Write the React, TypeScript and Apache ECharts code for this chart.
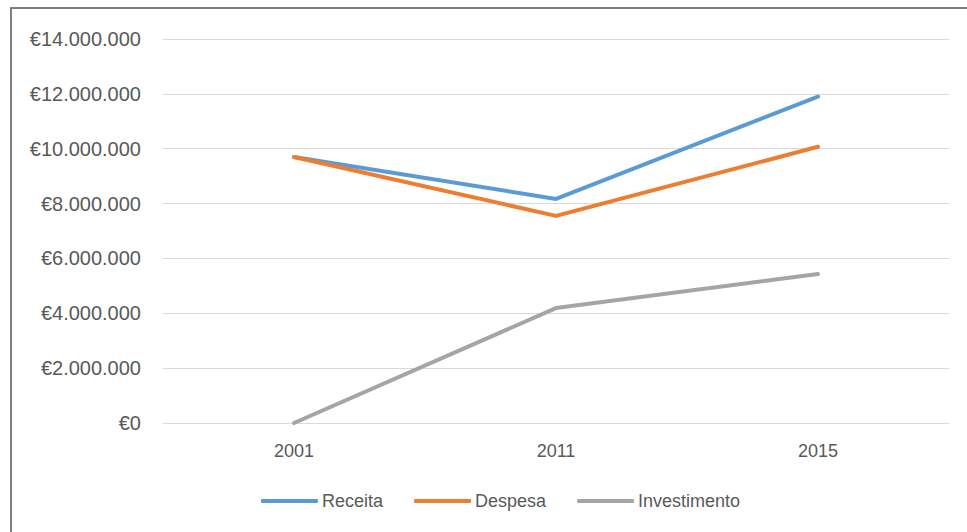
import React, { useEffect, useRef } from "react";
import * as echarts from "echarts";

const categories = ["2001", "2011", "2015"];
const receita = [9700000, 8170000, 11900000];
const despesa = [9700000, 7550000, 10070000];
const investimento = [0, 4190000, 5430000];

const fmt = (v: number) =>
  "€" + Math.round(v).toString().replace(/\B(?=(\d{3})+(?!\d))/g, ".");

export default function App() {
  const ref = useRef<HTMLDivElement>(null);
  useEffect(() => {
    const chart = echarts.init(ref.current!, null, { renderer: "svg" });
    const font = "Liberation Sans, sans-serif";
    chart.setOption({
      animation: false,
      backgroundColor: "#ffffff",
      color: ["#5B9BD5", "#ED7D31", "#A5A5A5"],
      graphic: [
        {
          type: "rect",
          shape: { x: 11, y: 8, width: 1000, height: 600 },
          style: { fill: "none", stroke: "#7F7F7F", lineWidth: 2 },
          silent: true,
        },
      ],
      grid: { left: 163, right: 18, top: 39, bottom: 109, containLabel: false },
      legend: {
        bottom: 17,
        left: 256,
        itemWidth: 57,
        itemHeight: 4,
        itemGap: 31,
        icon: "roundRect",
        textStyle: { color: "#595959", fontSize: 18, fontFamily: font, padding: [0, 0, 0, -1] },
        data: ["Receita", "Despesa", "Investimento"],
      },
      xAxis: {
        type: "category",
        data: categories,
        boundaryGap: true,
        axisLine: { show: false },
        axisTick: { show: false },
        axisLabel: { color: "#595959", fontSize: 18, fontFamily: font, margin: 19 },
      },
      yAxis: {
        type: "value",
        min: 0,
        max: 14000000,
        interval: 2000000,
        axisLine: { show: false },
        axisTick: { show: false },
        axisLabel: {
          color: "#595959",
          fontSize: 20,
          fontFamily: font,
          margin: 22,
          formatter: (v: number) => fmt(v),
        },
        splitLine: { lineStyle: { color: "#D9D9D9", width: 1 } },
      },
      series: [
        { name: "Receita", type: "line", data: receita, showSymbol: false, lineStyle: { width: 4, cap: "round", join: "round" } },
        { name: "Despesa", type: "line", data: despesa, showSymbol: false, lineStyle: { width: 4, cap: "round", join: "round" } },
        { name: "Investimento", type: "line", data: investimento, showSymbol: false, lineStyle: { width: 4, cap: "round", join: "round" } },
      ],
    });
    return () => chart.dispose();
  }, []);
  return (
    <div
      ref={ref}
      style={{ position: "absolute", left: 0, top: 0, width: 967, height: 532 }}
    />
  );
}
